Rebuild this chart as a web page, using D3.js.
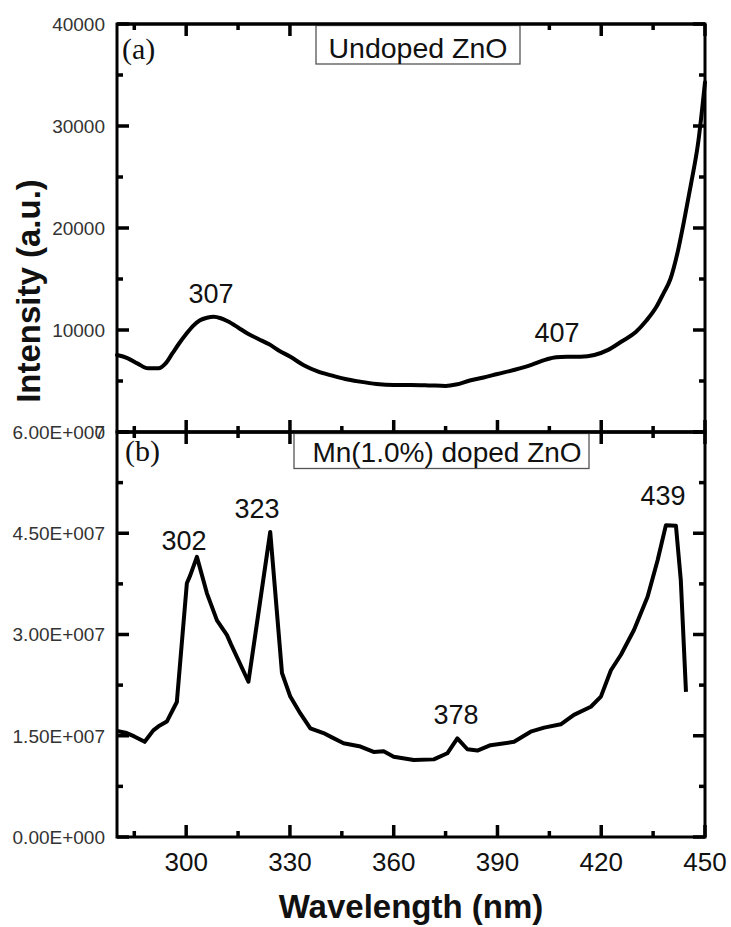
<!DOCTYPE html>
<html><head><meta charset="utf-8">
<script src="https://cdn.jsdelivr.net/npm/d3@7"></script>
<style>body{margin:0;background:#fff}svg{display:block}</style>
</head><body>
<svg id="c" width="731" height="927"></svg>
<script>
// ---- data ----
const wlA = [280,283,286,289,292,294,296,298,300,302,304,306,308,310,312,315,318,321,324,327,330,334,338,342,346,350,355,360,365,370,375,378,382,386,390,395,400,404,407,410,414,418,422,426,430,433,436,438,440,442,444,446,448,450];
const intA = [7550,7250,6700,6250,6250,6700,7700,8700,9600,10400,10950,11200,11300,11150,10850,10250,9600,9100,8600,7950,7400,6550,5950,5550,5200,4950,4700,4600,4600,4570,4520,4650,5050,5350,5690,6100,6600,7100,7330,7370,7380,7550,8050,8900,9800,10900,12300,13600,15000,17500,20800,24400,28300,34300];
const wlB = [280,282.8,285,288,290.5,292,294.4,297.3,300.2,301.2,303.1,306,308.9,311.8,313,318,324.3,327.7,330.1,333,335.9,339.7,342,345.5,350.4,354.2,357.1,360,365.8,371.6,375.5,378.4,381.3,384.2,388,394.8,399.6,403.5,408.3,412.1,417,419.9,422.8,425.7,429.5,433.4,436.3,438.7,441.6,443,444.5];
const intB = [15.7e6,15.4e6,14.9e6,14.1e6,15.8e6,16.4e6,17.1e6,20.0e6,37.6e6,38.8e6,41.5e6,36.1e6,32.1e6,29.9e6,28.5e6,23.0e6,45.2e6,24.3e6,20.8e6,18.3e6,16.1e6,15.4e6,14.8e6,13.9e6,13.4e6,12.6e6,12.7e6,11.9e6,11.4e6,11.5e6,12.4e6,14.6e6,13.0e6,12.8e6,13.6e6,14.1e6,15.6e6,16.2e6,16.7e6,18.1e6,19.3e6,20.8e6,24.7e6,27.0e6,30.7e6,35.6e6,41.0e6,46.2e6,46.1e6,38.1e6,21.5e6];
const xTicks = [300,330,360,390,420,450];
const xMinor = [285,315,345,375,405,435];
const yTicksA = [0,10000,20000,30000,40000];
const yMinorA = [5000,15000,25000,35000];
const yLabelsA = ["0","10000","20000","30000","40000"];
const yTicksB = [0,15e6,30e6,45e6,60e6];
const yMinorB = [7.5e6,22.5e6,37.5e6,52.5e6];
const yLabelsB = ["0.00E+000","1.50E+007","3.00E+007","4.50E+007","6.00E+007"];
const peaksA = [{wl:307,label:"307"},{wl:407,label:"407"}];
const peaksB = [{wl:302,label:"302"},{wl:323,label:"323"},{wl:378,label:"378"},{wl:439,label:"439"}];

// ---- layout ----
const L=117,R=705,T=24,M=432,B=837;
const svg=d3.select("#c");
const x=d3.scaleLinear().domain([280,450]).range([L,R]);
const ya=d3.scaleLinear().domain([0,40000]).range([M,T]);
const yb=d3.scaleLinear().domain([0,6e7]).range([B,M]);
const sans="Liberation Sans, Arial, sans-serif";

// frames first
[[T,M],[M,B]].forEach(([a,b])=>svg.append("rect").attr("x",L).attr("y",a).attr("width",R-L).attr("height",b-a)
  .attr("fill","none").attr("stroke","#000").attr("stroke-width",3));

const tickLayer=svg.append("g").attr("class","ticks");
function xTickMarks(vals, len, yPos, dir){
  vals.forEach(d=>tickLayer.append("rect")
    .attr("x",x(d)-1.75).attr("width",3.5)
    .attr("y",dir>0?yPos:yPos-len).attr("height",len)
    .attr("fill","#000"));
}
function yTickMarks(y, vals, len, xPos, dir){
  vals.forEach(d=>tickLayer.append("rect")
    .attr("y",y(d)-1.75).attr("height",3.5)
    .attr("x",dir>0?xPos:xPos-len).attr("width",len)
    .attr("fill","#000"));
}
function drawPanelTicks(y, yTop, yBot, major, minor){
  xTickMarks(xTicks,12,yBot,-1); xTickMarks(xMinor,6,yBot,-1);
  xTickMarks(xTicks,12,yTop,1);  xTickMarks(xMinor,6,yTop,1);
  yTickMarks(y,major,12,L,1); yTickMarks(y,minor,6,L,1);
  yTickMarks(y,major,12,R,-1); yTickMarks(y,minor,6,R,-1);
}
drawPanelTicks(ya,T,M,yTicksA,yMinorA);
drawPanelTicks(yb,M,B,yTicksB,yMinorB);

// y tick labels
function yLabels(y,vals,labels){
  svg.append("g").selectAll("text").data(vals).join("text")
    .attr("x",105).attr("y",d=>y(d)).attr("dy","0.36em")
    .attr("text-anchor","end").attr("font-family",sans).attr("font-size",19)
    .attr("fill","#333").text((d,i)=>labels[i]);
}
yLabels(yb,yTicksB,yLabelsB);
yLabels(ya,yTicksA,yLabelsA);

// x tick labels
svg.append("g").selectAll("text").data(xTicks).join("text")
  .attr("x",d=>x(d)).attr("y",871).attr("text-anchor","middle")
  .attr("font-family",sans).attr("font-size",26).attr("fill","#111").text(d=>d);

// curves
const lineA=d3.line().x((d,i)=>x(wlA[i])).y(d=>ya(d)).curve(d3.curveMonotoneX);
svg.append("path").attr("d",lineA(intA)).attr("fill","none").attr("stroke","#000")
  .attr("stroke-width",4).attr("stroke-linejoin","round").attr("stroke-linecap","round");
const lineB=d3.line().x((d,i)=>x(wlB[i])).y(d=>yb(d));
svg.append("path").attr("d",lineB(intB)).attr("fill","none").attr("stroke","#000")
  .attr("stroke-width",4).attr("stroke-linejoin","round").attr("stroke-linecap","butt");

// legend boxes
function legend(x0,y0,w,h,tx,ty,txt,fs){
  svg.append("rect").attr("x",x0).attr("y",y0).attr("width",w).attr("height",h)
    .attr("fill","#fff").attr("stroke","#555").attr("stroke-width",1.3);
  svg.append("text").attr("x",tx).attr("y",ty).attr("text-anchor","middle")
    .attr("font-family",sans).attr("font-size",fs).attr("fill","#111").text(txt);
}
legend(316,25.5,204,38.5,418,58,"Undoped ZnO",28.5);
legend(294,433.5,295,35,447,462,"Mn(1.0%) doped ZnO",28);
svg.append("path").attr("d",`M${L},${T}H${R}M${L},${M}H${R}`).attr("stroke","#000").attr("stroke-width",3);

// panel letters
const serif="Liberation Serif, Times New Roman, serif";
svg.append("text").attr("x",122).attr("y",59).attr("font-family",serif)
  .attr("font-size",30).attr("fill","#111").text("(a)");
svg.append("text").attr("x",125).attr("y",461).attr("font-family",serif)
  .attr("font-size",30).attr("fill","#111").text("(b)");

// peak annotations
const annA={307:[211,303],407:[557,342]};
const annB={302:[184,550],323:[257,518],378:[456,724],439:[663,505]};
peaksA.forEach(p=>svg.append("text").attr("x",annA[p.wl][0]).attr("y",annA[p.wl][1])
  .attr("text-anchor","middle").attr("font-family",sans).attr("font-size",27).attr("fill","#111").text(p.label));
peaksB.forEach(p=>svg.append("text").attr("x",annB[p.wl][0]).attr("y",annB[p.wl][1])
  .attr("text-anchor","middle").attr("font-family",sans).attr("font-size",27).attr("fill","#111").text(p.label));

// axis titles
svg.append("text").attr("transform","translate(40,291) rotate(-90)").attr("text-anchor","middle")
  .attr("font-family",sans).attr("font-weight","bold").attr("font-size",33).attr("fill","#111").text("Intensity (a.u.)");
svg.append("text").attr("x",411).attr("y",918).attr("text-anchor","middle")
  .attr("font-family",sans).attr("font-weight","bold").attr("font-size",33).attr("fill","#111").text("Wavelength (nm)");
</script>
</body></html>
